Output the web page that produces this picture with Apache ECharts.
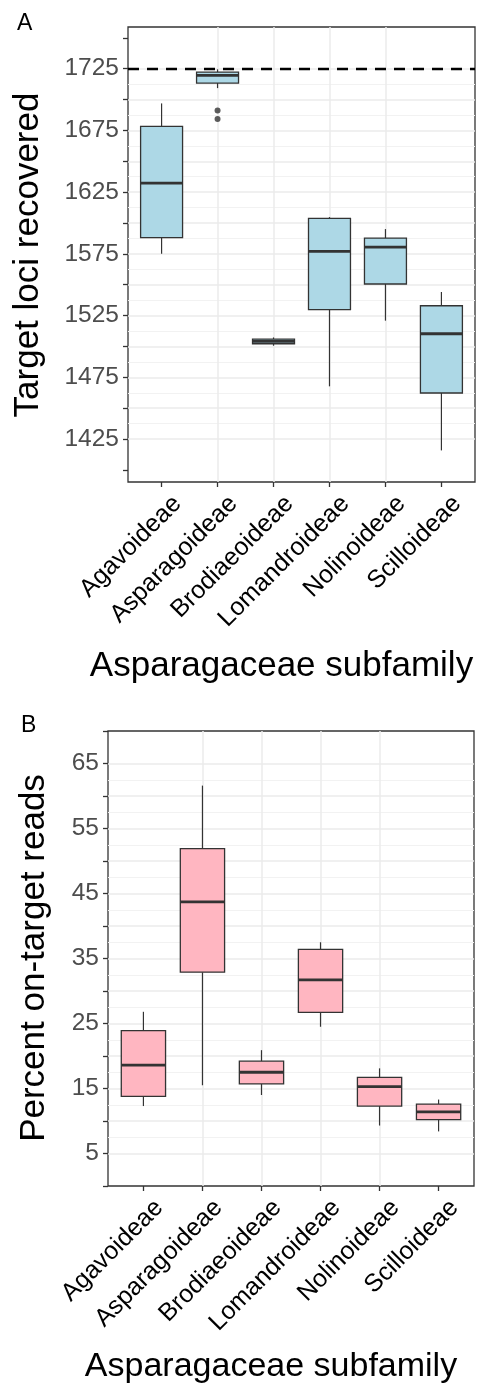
<!DOCTYPE html>
<html><head><meta charset="utf-8">
<script src="https://cdn.jsdelivr.net/npm/echarts@6/dist/echarts.min.js"></script>
<style>html,body{margin:0;padding:0;background:#fff}#c{width:480px;height:1388px}</style>
</head><body><div id="c"></div>
<script>
const categories = ['Agavoideae','Asparagoideae','Brodiaeoideae','Lomandroideae','Nolinoideae','Scilloideae'];
// each row: [lower whisker, Q1, median, Q3, upper whisker]
const lociStats = [
  [1575.1, 1588.1, 1632.4, 1678.3, 1696.9],
  [1709.3, 1713.4, 1719.6, 1722.3, 1724.5],
  [1500.6, 1502.2, 1504.1, 1506.0, 1507.3],
  [1467.7, 1529.8, 1577.0, 1603.7, 1604.8],
  [1520.9, 1550.6, 1580.5, 1587.8, 1595.1],
  [1415.8, 1462.3, 1510.3, 1533.0, 1544.1]
];
const lociOutliers = [[2, 1691.2], [2, 1684.2]];
const lociTarget = 1725;
const lociTicks = [1400,1425,1450,1475,1500,1525,1550,1575,1600,1625,1650,1675,1700,1725,1750];
const lociLabels = [1425,1475,1525,1575,1625,1675,1725];
const lociMinor = [1412.5,1437.5,1462.5,1487.5,1512.5,1537.5,1562.5,1587.5,1612.5,1637.5,1662.5,1687.5,1712.5,1737.5];

const readStats = [
  [12.3, 13.8, 18.6, 23.9, 26.8],
  [15.5, 32.9, 43.7, 51.9, 61.6],
  [14.0, 15.7, 17.5, 19.2, 20.9],
  [24.5, 26.7, 31.7, 36.4, 37.5],
  [9.3, 12.3, 15.3, 16.7, 18.1],
  [8.4, 10.2, 11.4, 12.6, 13.3]
];
const readTicks = [0,5,10,15,20,25,30,35,40,45,50,55,60,65,70];
const readLabels = [5,15,25,35,45,55,65];
const readMinor = [2.5,7.5,12.5,17.5,22.5,27.5,32.5,37.5,42.5,47.5,52.5,57.5,62.5,67.5];

const catPos = categories.map((c, i) => i + 1);
const FONT = '"Liberation Sans", Arial, Helvetica, sans-serif';
const DARK = '#333333';
const GRID_MAJOR = '#EBEBEB';

function boxRenderer(fill) {
  return function (params, api) {
    const x = api.value(0);
    const pLow = api.coord([x, api.value(1)]);
    const pQ1 = api.coord([x, api.value(2)]);
    const pMed = api.coord([x, api.value(3)]);
    const pQ3 = api.coord([x, api.value(4)]);
    const pHigh = api.coord([x, api.value(5)]);
    const hw = api.size([0.75, 0])[0] / 2;
    const cx = pMed[0];
    return {
      type: 'group',
      children: [
        {type: 'line', shape: {x1: cx, y1: pHigh[1], x2: cx, y2: pQ3[1]}, style: {stroke: DARK, lineWidth: 1.2}},
        {type: 'line', shape: {x1: cx, y1: pQ1[1], x2: cx, y2: pLow[1]}, style: {stroke: DARK, lineWidth: 1.2}},
        {type: 'rect', shape: {x: cx - hw, y: pQ3[1], width: 2 * hw, height: pQ1[1] - pQ3[1]},
         style: {fill: fill, stroke: DARK, lineWidth: 1.3}},
        {type: 'line', shape: {x1: cx - hw, y1: pMed[1], x2: cx + hw, y2: pMed[1]}, style: {stroke: DARK, lineWidth: 2.8}}
      ]
    };
  };
}

function xAxisFor(gridIndex) {
  return {
    type: 'value', gridIndex: gridIndex, min: 0.4, max: 6.6,
    axisLine: {show: false},
    axisTick: {show: true, length: 5, customValues: catPos, lineStyle: {color: DARK, width: 1.3}},
    axisLabel: {show: true, customValues: catPos, rotate: 45, fontSize: 25, fontFamily: FONT, color: '#000',
      margin: 2, padding: [10, 0, 0, 0], verticalAlign: 'top', formatter: v => categories[Math.round(v) - 1] || ''},
    splitLine: {show: true, showMinLine: false, showMaxLine: false, lineStyle: {color: GRID_MAJOR, width: 1.5}}
  };
}
function yMain(gridIndex, min, max, ticks, labels) {
  return {
    type: 'value', gridIndex: gridIndex, min: min, max: max,
    axisLine: {show: false},
    axisTick: {show: true, length: 5, customValues: ticks, lineStyle: {color: DARK, width: 1.3}},
    axisLabel: {show: true, customValues: labels, fontSize: 24.5, fontFamily: FONT, color: '#4D4D4D', margin: 9,
      formatter: v => String(v)},
    splitLine: {show: true, showMinLine: false, showMaxLine: false, lineStyle: {color: GRID_MAJOR, width: 1.5}}
  };
}
function yMinor(gridIndex, min, max, minor) {
  return {
    type: 'value', gridIndex: gridIndex, min: min, max: max, position: 'left',
    axisLine: {show: false},
    axisTick: {show: false, customValues: minor},
    axisLabel: {show: false},
    splitLine: {show: true, showMinLine: false, showMaxLine: false, lineStyle: {color: '#F2F2F2', width: 1}}
  };
}

const chart = echarts.init(document.getElementById('c'), null, {renderer: 'canvas'});
chart.setOption({
  animation: false,
  backgroundColor: '#fff',
  grid: [
    {left: 128, top: 27, width: 347, height: 455, show: true, borderColor: DARK, borderWidth: 1.3, backgroundColor: 'transparent'},
    {left: 108, top: 731, width: 366, height: 455, show: true, borderColor: DARK, borderWidth: 1.3, backgroundColor: 'transparent'}
  ],
  xAxis: [xAxisFor(0), xAxisFor(1)],
  yAxis: [
    yMain(0, 1390.2, 1758.8, lociTicks, lociLabels),
    yMinor(0, 1390.2, 1758.8, lociMinor),
    yMain(1, 0, 70, readTicks, readLabels),
    yMinor(1, 0, 70, readMinor)
  ],
  series: [
    {type: 'custom', xAxisIndex: 0, yAxisIndex: 0, renderItem: boxRenderer('#ADD8E6'),
     data: lociStats.map((s, i) => [catPos[i]].concat(s)), encode: {x: 0, y: [1, 2, 3, 4, 5]}, z: 3},
    {type: 'scatter', xAxisIndex: 0, yAxisIndex: 0, data: lociOutliers, symbolSize: 6,
     itemStyle: {color: DARK}, z: 4,
     markLine: {silent: true, symbol: ['none', 'none'], label: {show: false},
       lineStyle: {color: '#000', width: 2.4, type: [11, 8]}, data: [{yAxis: lociTarget}]}},
    {type: 'custom', xAxisIndex: 1, yAxisIndex: 2, renderItem: boxRenderer('#FFB6C1'),
     data: readStats.map((s, i) => [catPos[i]].concat(s)), encode: {x: 0, y: [1, 2, 3, 4, 5]}, z: 3}
  ],
  graphic: [
    {type: 'text', x: 17, y: 24, style: {text: 'A', font: '23px ' + FONT, fill: '#000', verticalAlign: 'middle'}},
    {type: 'text', x: 21, y: 726, style: {text: 'B', font: '23px ' + FONT, fill: '#000', verticalAlign: 'middle'}},
    {type: 'text', x: 28, y: 255, rotation: Math.PI / 2,
     style: {text: 'Target loci recovered', font: '35px ' + FONT, fill: '#000', align: 'center', verticalAlign: 'middle'}},
    {type: 'text', x: 34, y: 958, rotation: Math.PI / 2,
     style: {text: 'Percent on-target reads', font: '35px ' + FONT, fill: '#000', align: 'center', verticalAlign: 'middle'}},
    {type: 'text', x: 281.5, y: 666,
     style: {text: 'Asparagaceae subfamily', font: '35px ' + FONT, fill: '#000', align: 'center', verticalAlign: 'middle'}},
    {type: 'text', x: 271, y: 1367,
     style: {text: 'Asparagaceae subfamily', font: '34px ' + FONT, fill: '#000', align: 'center', verticalAlign: 'middle'}}
  ]
});
</script></body></html>
